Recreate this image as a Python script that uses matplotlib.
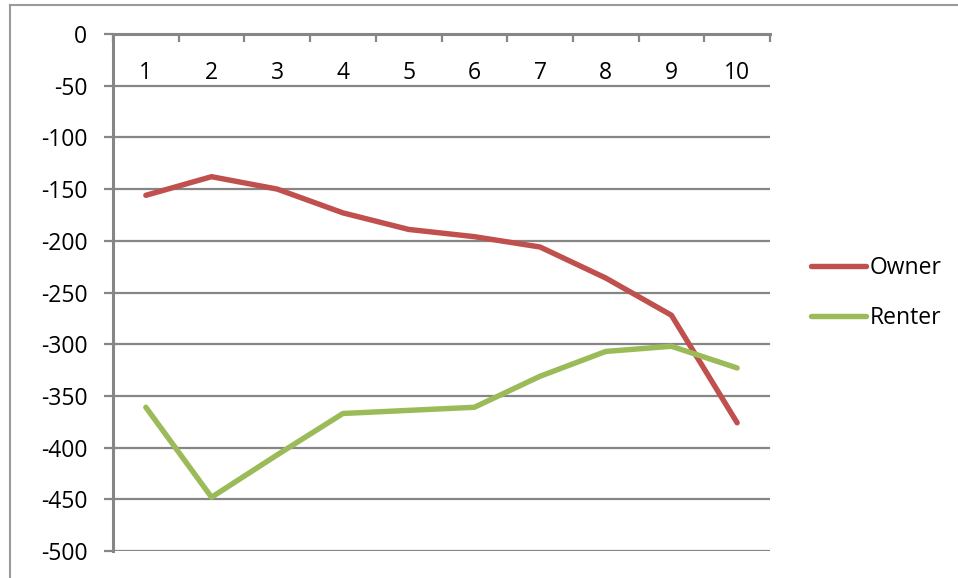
import matplotlib
matplotlib.use("Agg")
import matplotlib.pyplot as plt
from matplotlib.lines import Line2D

deciles = ["1", "2", "3", "4", "5", "6", "7", "8", "9", "10"]
owner = [-156, -138, -150, -173, -189, -196, -206, -236, -272, -376]
renter = [-361, -448, -407, -367, -364, -361, -331, -307, -302, -323]
y_ticks = [0, -50, -100, -150, -200, -250, -300, -350, -400, -450, -500]

GRID = "#868686"
FS = 16.5
plt.rcParams["font.family"] = ["Open Sans", "DejaVu Sans"]

fig = plt.figure(figsize=(9.58, 5.78), dpi=100)
ax = fig.add_axes([113 / 958, 1 - 551 / 578, (770 - 113) / 958, (551 - 34) / 578])

x = list(range(1, len(deciles) + 1))
ax.plot(x, owner, color="#C0504D", lw=3.9, solid_capstyle="round",
        solid_joinstyle="round", label="Owner", zorder=3)
ax.plot(x, renter, color="#9BBB59", lw=3.9, solid_capstyle="round",
        solid_joinstyle="round", label="Renter", zorder=3)

ax.set_xlim(0.5, len(deciles) + 0.5)
ax.set_ylim(-500, 0)
ax.set_yticks(y_ticks)
ax.set_yticklabels([str(v) for v in y_ticks], fontsize=FS)
ax.yaxis.grid(True, color=GRID, lw=1.6)
ax.set_axisbelow(True)

for s in ["right", "bottom"]:
    ax.spines[s].set_visible(False)
for s in ["left", "top"]:
    ax.spines[s].set_color(GRID)
    ax.spines[s].set_linewidth(2.2)

ax.tick_params(axis="y", direction="out", length=6.5, width=1.6, color=GRID, pad=12)
ax.xaxis.tick_top()
ax.set_xticks([i + 0.5 for i in range(0, len(deciles) + 1)])
ax.set_xticklabels([])
ax.tick_params(axis="x", direction="in", length=6, width=1.6, color=GRID)

for xi, lab in zip(x, deciles):
    ax.annotate(lab, xy=(xi, 0), xytext=(0, -37), textcoords="offset points",
                ha="center", va="bottom", fontsize=FS)

leg = ax.legend(loc="center left", bbox_to_anchor=((811 - 113) / 657, 0.499),
                frameon=False, fontsize=FS, borderpad=0, borderaxespad=0,
                handlelength=2.4, handletextpad=0.15, labelspacing=1.15)

# outer chart frame
fig.add_artist(Line2D([10 / 958, 1.0], [1 - 5 / 578, 1 - 5 / 578], color="#9a9a9a", lw=1.5))
fig.add_artist(Line2D([10 / 958, 10 / 958], [0.0, 1 - 5 / 578], color="#9a9a9a", lw=1.5))

fig.savefig("out.png", dpi=100)
